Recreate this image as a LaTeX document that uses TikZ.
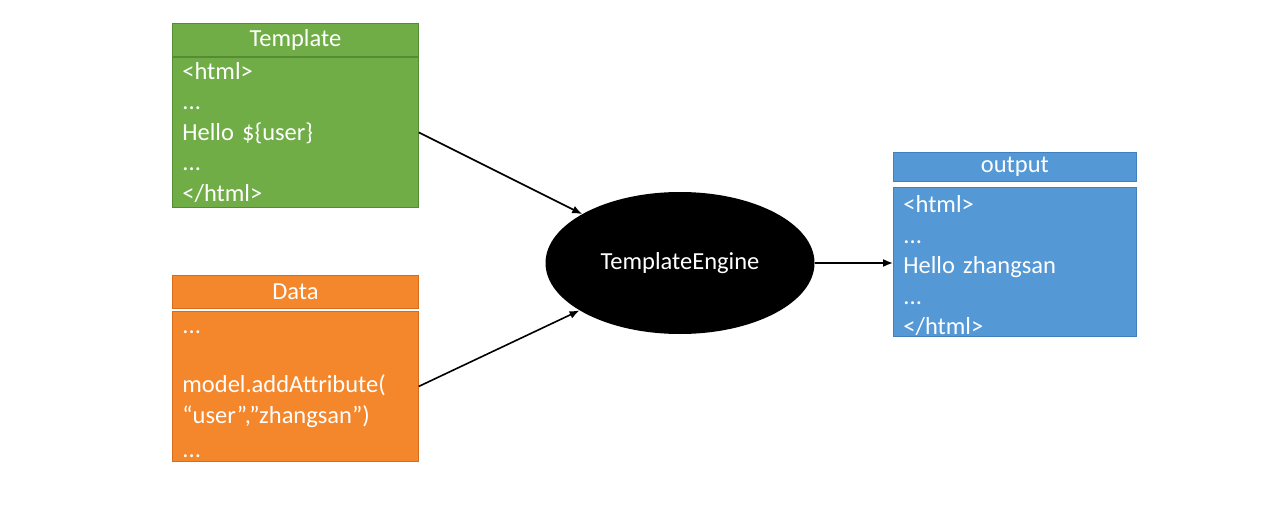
\documentclass[tikz,border=0pt]{standalone}
\usepackage{fontspec}
\setmainfont{Carlito}
\usetikzlibrary{shapes.geometric,arrows.meta,positioning}
\definecolor{tgreen}{RGB}{112,173,71}
\definecolor{tgreenline}{RGB}{84,140,52}
\definecolor{dorange}{RGB}{244,134,43}
\definecolor{dorangeline}{RGB}{214,108,28}
\definecolor{oblue}{RGB}{84,152,214}
\definecolor{obhline}{RGB}{64,128,190}
\tikzset{
  headbox/.style={draw=#1, line width=0.8pt, text=white, minimum width=246pt,
    minimum height=33pt, inner sep=0pt, anchor=north west},
  bodybox/.style={draw=#1, line width=0.8pt, text=white, text width=226pt,
    minimum width=246pt, minimum height=150pt, inner xsep=10pt, inner ysep=0pt,
    align=left, anchor=north west},
  flow/.style={-{Latex[length=10pt,width=8pt]}, line width=1.6pt}
}
\begin{document}
\begin{tikzpicture}[x=1pt,y=-1pt]
  \useasboundingbox (0,0) rectangle (1273,505);
  {\fontsize{24.5}{30.5}\selectfont

  % Drawing box Template
  \node [headbox=tgreenline, fill=tgreen] (thead) at (172,23) {Template};
  \node [bodybox=tgreenline, fill=tgreen] (tbody) at (172,57)
    {<html>\\...\\Hello \$\{user\}\\...\\</html>};

  % Drawing box Data
  \node [headbox=dorangeline, fill=dorange] (dhead) at (172,275) {Data};
  \node [bodybox=dorangeline, fill=dorange] (dbody) at (172,311)
    {\mbox{}\\[-12pt]...\\[-2pt]\mbox{}\\model.addAttribute(\\“user”,”zhangsan”)\\[4pt]...};

  % Drawing box output
  \node [headbox=obhline, fill=oblue, minimum width=243pt, minimum height=29pt] (ohead) at (893,152) {output};
  \node [bodybox=obhline, fill=oblue, minimum width=243pt, text width=223pt, minimum height=147pt] (obody) at (893,187)
    {\mbox{}\\[-5pt]<html>\\...\\Hello zhangsan\\...\\</html>};

  % Drawing ellipse TemplateEngine
  \node [ellipse, fill=black, text=white, minimum width=269pt, minimum height=142pt, inner sep=0pt]
    (engine) at (680,263) {TemplateEngine};

  % Drawing arrows
  \draw [flow] (tbody.east) -- (engine);
  \draw [flow] (dbody.east) -- (engine);
  \draw [flow] (engine.east) -- (engine.east -| obody.west);
  }
\end{tikzpicture}
\end{document}
